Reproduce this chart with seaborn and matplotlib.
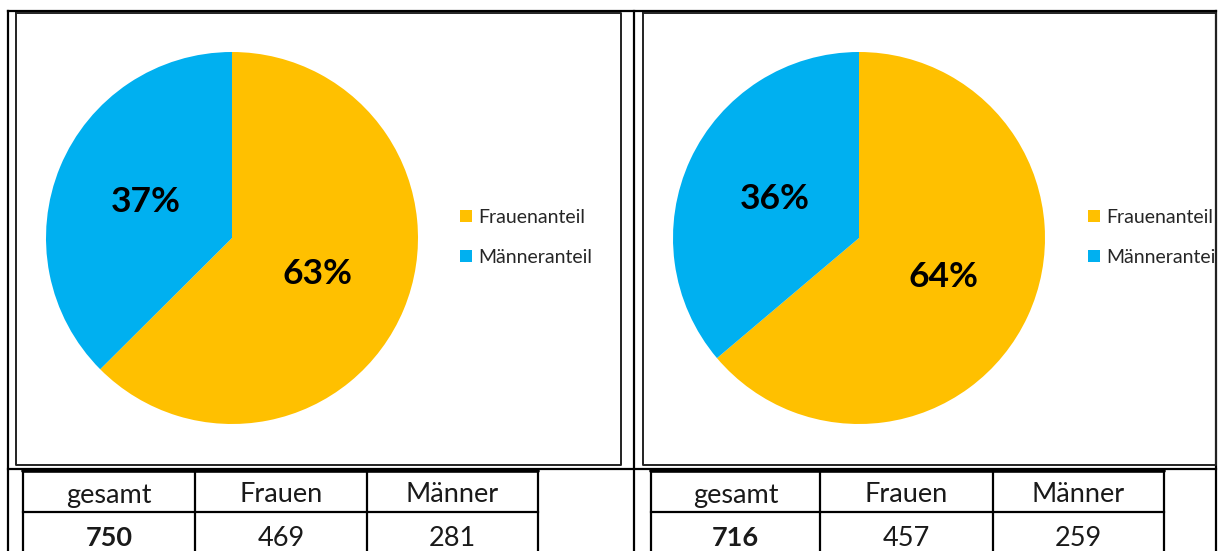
import matplotlib
matplotlib.use("Agg")
import matplotlib.pyplot as plt
import seaborn as sns

# Daten
kategorien = ["Frauenanteil", "Männeranteil"]
frauen = [469, 457]
maenner = [281, 259]
gesamt = [750, 716]
spalten = ["gesamt", "Frauen", "Männer"]
farben = ["#FFC000", "#00B0F0"]

sns.set_theme(style="white")
plt.rcParams["font.family"] = ["Lato", "DejaVu Sans"]

W, H = 1220, 551
fig = plt.figure(figsize=(W / 100, H / 100), dpi=100, facecolor="white")


def fx(x):
    return x / W


def fy(y):
    return 1 - y / H


# Kreisdiagramme (Mittelpunkt, Radius in Pixel)
pie_pos = [(232, 238), (859, 238)]
leg_x = [460, 1088]
R = 186
for i, (cx, cy) in enumerate(pie_pos):
    ax = fig.add_axes([fx(cx - R), fy(cy + R), 2 * R / W, 2 * R / H])
    werte = [frauen[i], maenner[i]]
    wedges, _, autotexts = ax.pie(
        werte, colors=farben, startangle=90, counterclock=False,
        autopct="%.0f%%", pctdistance=0.5, radius=1,
        textprops=dict(fontsize=25.5, fontweight="bold", color="black"),
        wedgeprops=dict(linewidth=0),
    )
    ax.set_xlim(-1, 1)
    ax.set_ylim(-1, 1)
    ax.axis("off")
    ax.legend(wedges, kategorien, loc="center left",
              bbox_to_anchor=(fx(leg_x[i]), fy(237.5)),
              bbox_transform=fig.transFigure, frameon=False,
              fontsize=14, handlelength=0.6, handleheight=0.6,
              handletextpad=0.35, labelspacing=1.2, borderpad=0,
              borderaxespad=0)

# Rahmen und Tabellen
frame = fig.add_axes([0, 0, 1, 1], zorder=10)
frame.set_xlim(0, W)
frame.set_ylim(H, 0)
frame.axis("off")
frame.patch.set_alpha(0)

frame.add_patch(plt.Rectangle((1217, 0), 3, H, color="white", zorder=1))

lw = 1.6
k = dict(color="black", lw=lw, zorder=3, solid_capstyle="projecting")
frame.plot([8, 1216], [11, 11], **k)
frame.plot([8, 8], [11, H], **k)
frame.plot([634, 634], [11, H], **k)
frame.plot([1216, 1216], [11, H], **k)
frame.plot([8, 1216], [469, 469], **k)

# Diagrammrahmen
for x0, x1 in [(16, 621), (643, 1216)]:
    frame.plot([x0, x1, x1, x0, x0], [12.5, 12.5, 465, 465, 12.5],
               color="#222222", lw=1.4, zorder=3)

# Tabellen
tab_x = [[23, 195, 367, 538], [651, 820, 993, 1164]]
for i, xs in enumerate(tab_x):
    frame.plot([xs[0], xs[-1]], [471, 471], color="black", lw=2.6, zorder=3)
    frame.plot([xs[0], xs[-1]], [512, 512], **k)
    for x in xs:
        frame.plot([x, x], [470, H], **k)
    zeile = [gesamt[i], frauen[i], maenner[i]]
    for j in range(3):
        mx = (xs[j] + xs[j + 1]) / 2
        frame.text(mx, 495, spalten[j], ha="center", va="center",
                   fontsize=19.5, color="#1a1a1a")
        frame.text(mx, 538, str(zeile[j]), ha="center", va="center",
                   fontsize=19.5, color="#1a1a1a",
                   fontweight="bold" if j == 0 else "normal")

fig.savefig("out.png", dpi=100, facecolor="white")
